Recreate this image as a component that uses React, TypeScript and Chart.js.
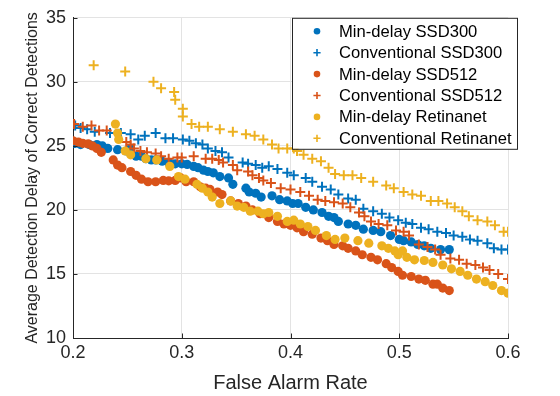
import React, { useEffect, useRef } from "react";
import { Chart, registerables } from "chart.js";

Chart.register(...registerables);

const FONT = '"Liberation Sans", Arial, Helvetica, sans-serif';
const TEXT = "#262626";

const seriesLabels = [
  "Min-delay SSD300",
  "Conventional SSD300",
  "Min-delay SSD512",
  "Conventional SSD512",
  "Min-delay Retinanet",
  "Conventional Retinanet",
];
const seriesColors = ["#0072BD", "#0072BD", "#D95319", "#D95319", "#EDB120", "#EDB120"];
const seriesMarkers = ["circle", "cross", "circle", "cross", "circle", "cross"];

const xTickValues = [0.2, 0.3, 0.4, 0.5, 0.6];
const yTickValues = [10, 15, 20, 25, 30, 35];

const minDelaySSD300: [number, number][] = [
  [0.202, 25.2], [0.207, 25.1], [0.215, 25.1], [0.222, 25.1], [0.227, 25.0], [0.232, 24.8],
  [0.241, 24.7], [0.249, 24.6], [0.253, 24.8], [0.258, 24.2], [0.263, 24.2], [0.267, 24.0],
  [0.272, 23.9], [0.276, 23.9], [0.282, 23.8], [0.288, 23.7], [0.294, 23.6], [0.300, 23.6],
  [0.305, 23.55], [0.311, 23.4], [0.315, 23.3], [0.320, 23.1], [0.324, 23.0], [0.329, 22.9],
  [0.335, 22.6], [0.343, 22.5], [0.347, 22.0], [0.359, 21.7], [0.362, 21.4], [0.368, 21.3],
  [0.373, 21.0], [0.383, 21.1], [0.390, 20.8], [0.397, 20.7], [0.402, 20.5], [0.407, 20.5],
  [0.414, 20.2], [0.421, 20.0], [0.429, 19.8], [0.435, 19.5], [0.440, 19.4], [0.444, 19.1],
  [0.453, 18.9], [0.460, 18.8], [0.467, 18.5], [0.476, 18.4], [0.483, 18.3], [0.492, 18.0],
  [0.500, 17.7], [0.504, 17.6], [0.511, 17.5], [0.517, 17.3], [0.523, 17.2], [0.529, 17.0],
  [0.538, 16.9], [0.546, 16.9],
];

const conventionalSSD300: [number, number][] = [
  [0.202, 26.6], [0.207, 26.4], [0.213, 26.3], [0.220, 26.1], [0.234, 26.0], [0.244, 26.0],
  [0.253, 25.9], [0.260, 25.5], [0.266, 25.8], [0.276, 26.0], [0.285, 25.6], [0.292, 25.6],
  [0.301, 25.5], [0.307, 25.4], [0.313, 25.2], [0.319, 25.1], [0.324, 24.8], [0.331, 24.6],
  [0.337, 24.5], [0.343, 24.1], [0.356, 23.7], [0.361, 23.6], [0.368, 23.5], [0.374, 23.3],
  [0.380, 23.4], [0.388, 23.2], [0.397, 22.9], [0.403, 22.7], [0.414, 22.5], [0.420, 22.2],
  [0.429, 21.8], [0.437, 21.6], [0.444, 21.2], [0.453, 20.9], [0.460, 20.8], [0.467, 20.1],
  [0.476, 19.9], [0.484, 19.7], [0.491, 19.4], [0.499, 19.2], [0.506, 19.0], [0.512, 18.9],
  [0.520, 18.6], [0.527, 18.5], [0.535, 18.3], [0.543, 18.2], [0.550, 18.0], [0.558, 17.9],
  [0.565, 17.7], [0.572, 17.6], [0.581, 17.4], [0.587, 17.0], [0.594, 16.9], [0.600, 16.9],
];

const minDelaySSD512: [number, number][] = [
  [0.200, 25.4], [0.205, 25.3], [0.209, 25.2], [0.214, 25.15], [0.218, 25.0], [0.222, 24.8],
  [0.226, 24.5], [0.237, 23.9], [0.241, 23.5], [0.245, 23.3], [0.253, 23.0], [0.258, 22.7],
  [0.263, 22.4], [0.269, 22.2], [0.276, 22.2], [0.283, 22.3], [0.288, 22.27], [0.294, 22.3],
  [0.299, 22.5], [0.304, 22.2], [0.311, 22.2], [0.317, 21.8], [0.322, 21.7], [0.326, 21.6],
  [0.333, 21.4], [0.337, 21.2], [0.345, 20.7], [0.352, 20.5], [0.359, 20.3], [0.365, 20.0],
  [0.372, 19.7], [0.380, 19.4], [0.388, 19.1], [0.394, 18.9], [0.400, 18.8], [0.406, 18.6],
  [0.412, 18.3], [0.420, 18.1], [0.428, 17.8], [0.434, 17.6], [0.440, 17.3], [0.448, 17.2],
  [0.453, 17.0], [0.460, 16.8], [0.466, 16.5], [0.474, 16.3], [0.480, 16.1], [0.488, 15.8],
  [0.493, 15.5], [0.499, 15.2], [0.503, 14.9], [0.511, 14.8], [0.518, 14.6], [0.524, 14.5],
  [0.531, 14.2], [0.535, 14.2], [0.540, 13.9], [0.546, 13.7],
];

const conventionalSSD512: [number, number][] = [
  [0.201, 26.7], [0.209, 26.5], [0.217, 26.6], [0.224, 26.2], [0.231, 26.2], [0.249, 25.3],
  [0.253, 25.1], [0.256, 24.8], [0.262, 24.6], [0.268, 24.5], [0.276, 24.4], [0.281, 24.2],
  [0.288, 24.0], [0.296, 24.1], [0.300, 24.1], [0.311, 24.2], [0.322, 24.0], [0.328, 24.0],
  [0.334, 23.9], [0.338, 23.7], [0.347, 23.5], [0.351, 23.1], [0.361, 23.0], [0.365, 22.7],
  [0.371, 22.5], [0.375, 22.3], [0.382, 22.1], [0.391, 21.7], [0.400, 21.6], [0.409, 21.4],
  [0.417, 21.1], [0.425, 20.8], [0.432, 20.7], [0.440, 20.6], [0.448, 20.5], [0.455, 20.2],
  [0.463, 19.8], [0.468, 19.5], [0.474, 19.1], [0.481, 18.9], [0.489, 18.8], [0.497, 18.4],
  [0.504, 18.3], [0.509, 18.0], [0.518, 17.3], [0.526, 17.1], [0.533, 16.9], [0.538, 16.5],
  [0.547, 16.2], [0.555, 16.1], [0.562, 15.8], [0.570, 15.7], [0.577, 15.5], [0.583, 15.3],
  [0.591, 15.0], [0.600, 14.6],
];

const minDelayRetinanet: [number, number][] = [
  [0.239, 26.7], [0.241, 26.0], [0.242, 25.5], [0.248, 24.6], [0.253, 24.3], [0.267, 24.0],
  [0.277, 23.9], [0.289, 23.4], [0.297, 22.6], [0.303, 22.4], [0.314, 22.0], [0.319, 21.7],
  [0.324, 21.4], [0.328, 21.0], [0.335, 20.5], [0.345, 20.7], [0.351, 20.3], [0.357, 20.2],
  [0.363, 19.9], [0.370, 19.9], [0.375, 19.7], [0.380, 19.8], [0.388, 19.5], [0.397, 19.1],
  [0.403, 19.2], [0.409, 18.9], [0.416, 18.7], [0.423, 18.4], [0.433, 18.0], [0.441, 17.7],
  [0.450, 17.8], [0.462, 17.6], [0.472, 17.4], [0.484, 17.2], [0.490, 17.0], [0.496, 16.8],
  [0.499, 16.5], [0.503, 16.8], [0.507, 16.3], [0.514, 16.1], [0.523, 16.05], [0.531, 15.9],
  [0.540, 15.7], [0.548, 15.4], [0.556, 15.2], [0.563, 14.9], [0.571, 14.6], [0.579, 14.4],
  [0.586, 14.1], [0.594, 13.7], [0.600, 13.5],
];

const conventionalRetinanet: [number, number][] = [
  [0.219, 31.3], [0.248, 30.8], [0.274, 30.0], [0.281, 29.5], [0.293, 29.2], [0.294, 28.6],
  [0.301, 27.9], [0.301, 27.3], [0.309, 26.7], [0.316, 26.5], [0.324, 26.5], [0.335, 26.3],
  [0.347, 26.1], [0.359, 25.9], [0.367, 25.8], [0.375, 25.5], [0.383, 25.1], [0.389, 24.8],
  [0.397, 24.8], [0.403, 24.8], [0.406, 24.6], [0.412, 24.3], [0.420, 24.0], [0.428, 23.8],
  [0.435, 23.3], [0.441, 22.8], [0.449, 22.7], [0.457, 22.7], [0.465, 22.5], [0.476, 22.2],
  [0.488, 21.9], [0.495, 21.7], [0.504, 21.4], [0.512, 21.2], [0.520, 21.1], [0.529, 20.7],
  [0.536, 20.7], [0.544, 20.5], [0.551, 20.2], [0.558, 19.9], [0.564, 19.5], [0.572, 19.2],
  [0.581, 19.1], [0.588, 18.8], [0.596, 18.3], [0.600, 18.3],
];

const seriesData = [
  minDelaySSD300,
  conventionalSSD300,
  minDelaySSD512,
  conventionalSSD512,
  minDelayRetinanet,
  conventionalRetinanet,
];

const legendPlugin = {
  id: "matlabLegend",
  afterDatasetsDraw(chart: any) {
    const ctx = chart.ctx as CanvasRenderingContext2D;
    const area = chart.chartArea;
    const bx = area.right - 216;
    const by = area.top;
    const bw = 225;
    const bh = 131;
    ctx.save();
    ctx.fillStyle = "#ffffff";
    ctx.fillRect(bx, by, bw, bh);
    ctx.strokeStyle = TEXT;
    ctx.lineWidth = 1;
    ctx.strokeRect(bx + 0.5, by + 0.5, bw, bh);
    ctx.font = `16.6px ${FONT}`;
    ctx.textBaseline = "middle";
    ctx.textAlign = "left";
    for (let i = 0; i < seriesLabels.length; i++) {
      const cy = by + 13.5 + i * 21.4;
      const mx = bx + 25;
      ctx.fillStyle = seriesColors[i];
      ctx.strokeStyle = seriesColors[i];
      if (seriesMarkers[i] === "circle") {
        ctx.beginPath();
        ctx.arc(mx, cy, 3.3, 0, Math.PI * 2);
        ctx.fill();
      } else {
        ctx.lineWidth = 1.6;
        ctx.beginPath();
        ctx.moveTo(mx - 3.6, cy);
        ctx.lineTo(mx + 3.6, cy);
        ctx.moveTo(mx, cy - 3.6);
        ctx.lineTo(mx, cy + 3.6);
        ctx.stroke();
      }
      ctx.fillStyle = "#000000";
      ctx.fillText(seriesLabels[i], bx + 47, cy + 1);
    }
    ctx.restore();
  },
};

const innerTicksPlugin = {
  id: "innerTicks",
  afterDraw(chart: any) {
    const ctx = chart.ctx as CanvasRenderingContext2D;
    const area = chart.chartArea;
    const xs = chart.scales.x;
    const ys = chart.scales.y;
    ctx.save();
    ctx.strokeStyle = TEXT;
    ctx.lineWidth = 1;
    ctx.beginPath();
    for (const v of xTickValues) {
      const px = Math.round(xs.getPixelForValue(v)) + 0.5;
      ctx.moveTo(px, area.bottom);
      ctx.lineTo(px, area.bottom - 4.5);
    }
    for (const v of yTickValues) {
      const py = Math.round(ys.getPixelForValue(v)) + 0.5;
      ctx.moveTo(area.left, py);
      ctx.lineTo(area.left + 4.5, py);
    }
    ctx.stroke();
    ctx.restore();
  },
};

export default function App() {
  const canvasRef = useRef<HTMLCanvasElement>(null);

  useEffect(() => {
    if (!canvasRef.current) return;
    const datasets = seriesData.map((pts, i) => {
      const isDot = seriesMarkers[i] === "circle";
      return {
        label: seriesLabels[i],
        data: pts.map(([x, y]) => ({ x, y })),
        showLine: false,
        pointStyle: seriesMarkers[i] as any,
        pointRadius: isDot ? 4.6 : 5,
        pointBorderWidth: isDot ? 0 : 2,
        pointBackgroundColor: seriesColors[i],
        pointBorderColor: seriesColors[i],
        backgroundColor: seriesColors[i],
        borderColor: seriesColors[i],
        order: seriesLabels.length - i,
      };
    });

    const chart = new Chart(canvasRef.current, {
      type: "scatter",
      data: { datasets },
      plugins: [legendPlugin, innerTicksPlugin],
      options: {
        animation: false,
        responsive: false,
        maintainAspectRatio: false,
        devicePixelRatio: 1,
        events: [],
        layout: { padding: { top: 8, right: 52, left: 0, bottom: 0 } },
        plugins: {
          legend: { display: false },
          tooltip: { enabled: false },
        },
        scales: {
          x: {
            type: "linear",
            min: 0.2,
            max: 0.6,
            afterBuildTicks: (s: any) => {
              s.ticks = xTickValues.map((v) => ({ value: v }));
            },
            afterFit: (s: any) => {
              s.height = 58;
            },
            ticks: {
              color: TEXT,
              font: { family: FONT, size: 18 },
              padding: 4,
              maxRotation: 0,
              callback: (v: any) => Number(v).toFixed(1),
            },
            grid: { color: "#e3e3e3", drawTicks: false, lineWidth: 1 },
            border: { display: true, color: TEXT, width: 1 },
            title: {
              display: true,
              text: "False Alarm Rate",
              color: TEXT,
              font: { family: FONT, size: 20 },
              padding: { top: 0, bottom: 1 },
            },
          },
          y: {
            type: "linear",
            min: 10,
            max: 35,
            afterBuildTicks: (s: any) => {
              s.ticks = yTickValues.map((v) => ({ value: v }));
            },
            afterFit: (s: any) => {
              s.width = 73;
            },
            ticks: {
              color: TEXT,
              font: { family: FONT, size: 18 },
              padding: 7,
            },
            grid: { color: "#e3e3e3", drawTicks: false, lineWidth: 1 },
            border: { display: true, color: TEXT, width: 1 },
            title: {
              display: true,
              text: "Average Detection Delay of Correct Detections",
              color: TEXT,
              font: { family: FONT, size: 16 },
              padding: { top: 23, bottom: 0 },
            },
          },
        },
      },
    } as any);

    return () => chart.destroy();
  }, []);

  return (
    <div style={{ position: "absolute", left: 0, top: 0, width: 560, height: 396, background: "#ffffff" }}>
      <canvas ref={canvasRef} width={560} height={396} style={{ width: 560, height: 396, display: "block" }} />
    </div>
  );
}
